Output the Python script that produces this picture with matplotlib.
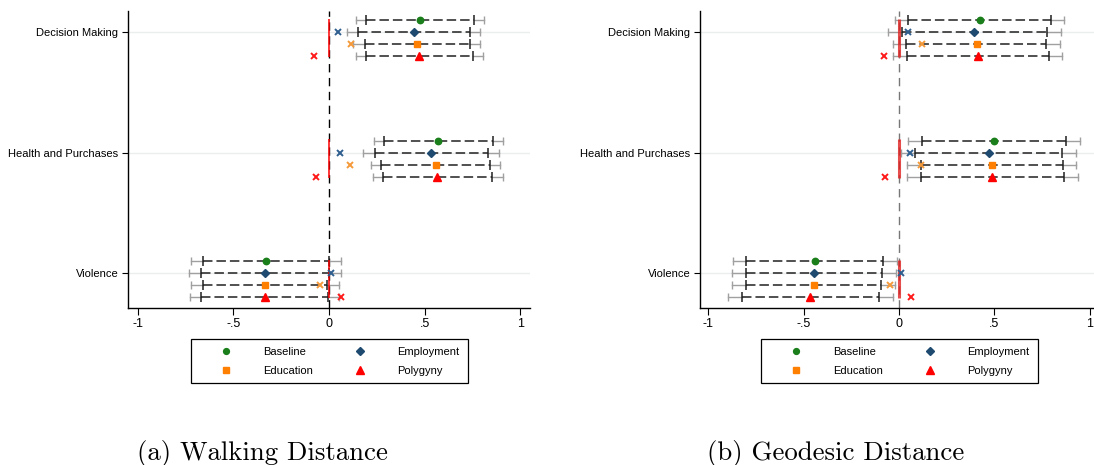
import numpy as np
import matplotlib
matplotlib.use("Agg")
import matplotlib.pyplot as plt
from matplotlib.lines import Line2D

# ---------------- data ----------------
categories = ["Decision Making", "Health and Purchases", "Violence"]
models = ["Baseline", "Employment", "Education", "Polygyny"]
tick_values = [-1, -0.5, 0, 0.5, 1]
tick_labels = ["-1", "-.5", "0", ".5", "1"]
panel_titles = ["(a) Walking Distance", "(b) Geodesic Distance"]

# Walking distance: rows = models, columns = categories
walk_point = [[0.478, 0.572, -0.330],
              [0.445, 0.536, -0.335],
              [0.459, 0.559, -0.335],
              [0.473, 0.567, -0.337]]
walk_lo90 = [[0.195, 0.288, -0.660],
             [0.153, 0.239, -0.672],
             [0.187, 0.274, -0.660],
             [0.195, 0.284, -0.668]]
walk_hi90 = [[0.758, 0.859, 0.002],
             [0.737, 0.834, 0.000],
             [0.740, 0.843, -0.009],
             [0.752, 0.853, -0.004]]
walk_lo95 = [[0.141, 0.234, -0.723],
             [0.096, 0.180, -0.735],
             [0.128, 0.220, -0.723],
             [0.141, 0.229, -0.728]]
walk_hi95 = [[0.813, 0.913, 0.063],
             [0.790, 0.890, 0.063],
             [0.790, 0.897, 0.054],
             [0.805, 0.909, 0.054]]
walk_alt = [[np.nan, np.nan, np.nan],
            [0.049, 0.058, 0.010],
            [0.114, 0.110, -0.047],
            [-0.077, -0.070, 0.061]]

# Geodesic distance
geo_point = [[0.423, 0.499, -0.442],
             [0.395, 0.470, -0.445],
             [0.409, 0.487, -0.445],
             [0.414, 0.490, -0.465]]
geo_lo90 = [[0.046, 0.122, -0.801],
            [0.015, 0.084, -0.805],
            [0.039, 0.114, -0.805],
            [0.043, 0.114, -0.826]]
geo_hi90 = [[0.798, 0.876, -0.084],
            [0.775, 0.855, -0.088],
            [0.773, 0.858, -0.093],
            [0.787, 0.866, -0.103]]
geo_lo95 = [[-0.020, 0.049, -0.871],
            [-0.058, 0.009, -0.874],
            [-0.029, 0.044, -0.874],
            [-0.029, 0.044, -0.897]]
geo_hi95 = [[0.867, 0.949, -0.011],
            [0.850, 0.930, -0.015],
            [0.846, 0.930, -0.020],
            [0.857, 0.938, -0.032]]
geo_alt = [[np.nan, np.nan, np.nan],
           [0.049, 0.058, 0.009],
           [0.119, 0.116, -0.046],
           [-0.077, -0.072, 0.061]]

# ---------------- styling ----------------
marker_styles = ["o", "D", "s", "^"]
marker_sizes = [4.6, 4.2, 4.6, 5.6]
marker_colors = ["#1a7f1a", "#1f4a70", "#ff7f00", "#ff0000"]
alt_colors = [None, "#2f5f8f", "#f59a3a", "#ff1a1a"]
row_offsets = [0.1, 0.0, -0.1, -0.2]

plt.rcParams["font.family"] = ["Liberation Sans", "DejaVu Sans"]

fig = plt.figure(figsize=(10.94, 4.65), dpi=100)
W, H = 1094, 465
ax_b = 1 - 308 / H
ax_h = (308 - 11) / H
lefts = [128 / W, 700 / W]
widths = [402 / W, 398 / W]
xlims = [(-1.052, 1.052), (-1.044, 1.044)]

panels = [
    (walk_point, walk_lo90, walk_hi90, walk_lo95, walk_hi95, walk_alt),
    (geo_point, geo_lo90, geo_hi90, geo_lo95, geo_hi95, geo_alt),
]
zero_colors = ["black", "#777777"]
red_line_styles = [dict(color="#ff0000", lw=1.1, alpha=1.0),
                   dict(color="#e02020", lw=2.2, alpha=0.8)]

cat_y = np.array([3.0, 2.0, 1.0])

for p, (pt, lo90, hi90, lo95, hi95, alt) in enumerate(panels):
    ax = fig.add_axes([lefts[p], ax_b, widths[p], ax_h])
    ax.set_xlim(*xlims[p])
    ax.set_ylim(0.71, 3.175)

    # category reference lines
    for y in cat_y:
        ax.axhline(y, color="#ebeeef", lw=1.0, zorder=0)

    # zero line
    ax.axvline(0, color=zero_colors[p], lw=1.0, dashes=(6, 4), zorder=1)

    for j, y0 in enumerate(cat_y):
        # red reference segment at zero
        ax.plot([0, 0], [y0 + 0.11, y0 - 0.21], zorder=3.5,
                solid_capstyle="butt", **red_line_styles[p])
        for m in range(len(models)):
            y = y0 + row_offsets[m]
            a_lo, a_hi = lo95[m][j], hi95[m][j]
            b_lo, b_hi = lo90[m][j], hi90[m][j]
            # outer interval: gray tails and caps
            ax.plot([a_lo, b_lo], [y, y], color="#a0a0a0", lw=1.0, zorder=2)
            ax.plot([b_hi, a_hi], [y, y], color="#a0a0a0", lw=1.0, zorder=2)
            ax.plot([a_lo, a_hi], [y, y], ls="none", marker="|", ms=6,
                    mew=1.0, color="#a0a0a0", zorder=2)
            # inner interval: dashed black with caps
            ax.plot([b_lo, b_hi], [y, y], color="#202020", lw=1.1,
                    dashes=(6.2, 2.6), zorder=3)
            ax.plot([b_lo, b_hi], [y, y], ls="none", marker="|", ms=6.5,
                    mew=1.1, color="#202020", zorder=3)
            # point estimate
            ax.plot([pt[m][j]], [y], ls="none", marker=marker_styles[m],
                    ms=marker_sizes[m], color=marker_colors[m],
                    mec=marker_colors[m], zorder=5)
            # alternative estimate
            if alt_colors[m] is not None and not np.isnan(alt[m][j]):
                ax.plot([alt[m][j]], [y], ls="none", marker="x", ms=4,
                        mew=1.4, color=alt_colors[m], zorder=4)

    ax.set_yticks(cat_y)
    ax.set_yticklabels(categories, fontsize=8)
    ax.set_xticks(tick_values)
    ax.set_xticklabels(tick_labels, fontsize=9)
    ax.tick_params(axis="y", length=4, width=0.8, pad=3)
    ax.tick_params(axis="x", length=5, width=0.8, pad=2)
    for s in ["top", "right"]:
        ax.spines[s].set_visible(False)
    for s in ["left", "bottom"]:
        ax.spines[s].set_linewidth(1.0)
        ax.spines[s].set_color("black")

    handles = [Line2D([], [], ls="none", marker=marker_styles[m],
                      ms=marker_sizes[m] - 0.4, color=marker_colors[m])
               for m in range(len(models))]
    order = [0, 2, 1, 3]
    cx = lefts[p] + widths[p] / 2
    leg = ax.legend([handles[i] for i in order], [models[i] for i in order],
                    ncol=2, loc="upper center",
                    bbox_to_anchor=(cx, 1 - 339 / H),
                    bbox_transform=fig.transFigure,
                    fontsize=8, frameon=True, fancybox=False,
                    edgecolor="black", framealpha=1.0,
                    handlelength=5.0, handletextpad=0.85,
                    columnspacing=1.75, borderpad=0.7, labelspacing=0.8,
                    borderaxespad=0)
    leg.get_frame().set_linewidth(0.9)

# captions
caption_x = [262 / W, 836 / W]
for p in range(2):
    fig.text(caption_x[p], 1 - 453 / H, panel_titles[p], family="cmr10",
             fontsize=19.3, ha="center", va="center")

fig.savefig("out.png", dpi=100)
